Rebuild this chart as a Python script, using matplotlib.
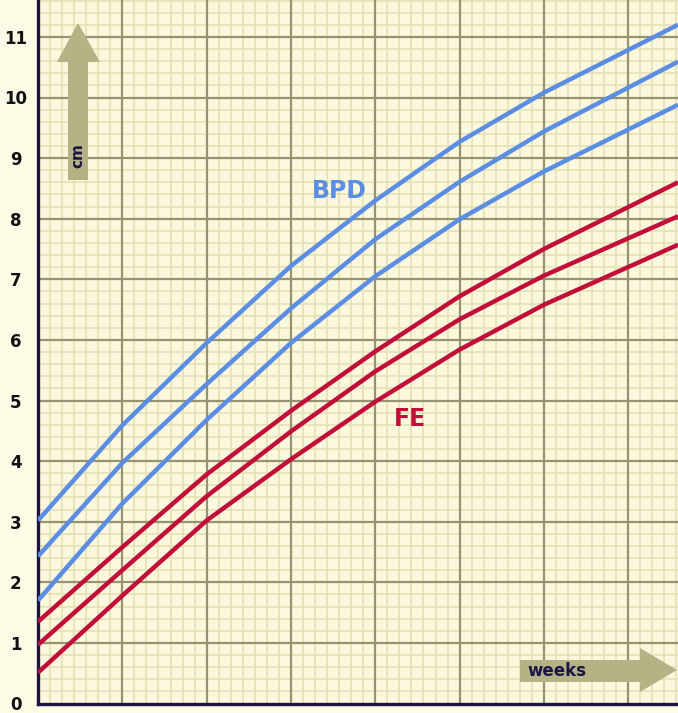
import matplotlib
matplotlib.use("Agg")
import matplotlib.pyplot as plt
from matplotlib.patches import Polygon
import numpy as np

# weeks (one major grid square = 1 week, 7 day subdivisions)
weeks = [0, 1, 2, 3, 4, 5, 6, 7.59]

# BPD percentile curves (cm)
bpd_high = [3.02, 4.59, 5.95, 7.22, 8.30, 9.27, 10.08, 11.20]
bpd_mid = [2.43, 3.97, 5.27, 6.52, 7.66, 8.61, 9.44, 10.59]
bpd_low = [1.70, 3.30, 4.68, 5.95, 7.05, 7.99, 8.78, 9.88]

# FE (femur) percentile curves (cm)
fe_high = [1.35, 2.58, 3.78, 4.83, 5.81, 6.72, 7.50, 8.60]
fe_mid = [0.97, 2.20, 3.42, 4.49, 5.48, 6.34, 7.06, 8.04]
fe_low = [0.51, 1.78, 3.02, 4.03, 4.98, 5.84, 6.58, 7.57]

y_ticks = list(range(0, 12))

W, H = 678, 713
BLUE = "#5b8de3"
RED = "#c20f3a"
NAVY = "#1c1446"
KHAKI = "#b5b285"

XMAX = 7.59
YMAX = 703.5 / 60.6

fig = plt.figure(figsize=(W / 100, H / 100), dpi=100)
fig.patch.set_facecolor("#fdfbe6")

# axes placed in pixels: left spine at x=38, bottom spine at y=703.5
ax = fig.add_axes([38 / W, (H - 703.5) / H, (W - 38) / W, 703.5 / H])
ax.set_facecolor("#fbf8de")
ax.set_xlim(0, XMAX)
ax.set_ylim(0, YMAX)

# graph paper: days / 0.2 cm minor lines, weeks / 1 cm major lines
minor_x = np.arange(0, XMAX, 1 / 7)
minor_y = np.arange(0, YMAX, 0.2)
ax.vlines(minor_x, 0, YMAX, color="#e6e2b8", linewidth=1.3, zorder=0.5)
ax.hlines(minor_y, 0, XMAX, color="#e6e2b8", linewidth=1.3, zorder=0.5)
ax.vlines(np.arange(1, 8), 0, YMAX, color="#959370", linewidth=1.6, zorder=1)
ax.hlines(y_ticks[1:], 0, XMAX, color="#959370", linewidth=1.6, zorder=1)

ax.set_xticks([])
ax.set_yticks(y_ticks)
ax.set_yticklabels([str(v) for v in y_ticks], fontsize=12, fontweight="bold", color="#111111")
for lab in ax.get_yticklabels():
    lab.set_horizontalalignment("center")
ax.tick_params(axis="both", which="both", length=0)
ax.tick_params(axis="y", pad=16)

for side in ["top", "right"]:
    ax.spines[side].set_visible(False)
for side in ["left", "bottom"]:
    ax.spines[side].set_color(NAVY)
    ax.spines[side].set_linewidth(2.4)

for ys in [bpd_high, bpd_mid, bpd_low]:
    ax.plot(weeks, ys, color=BLUE, linewidth=3.2, solid_capstyle="butt",
            solid_joinstyle="round", zorder=3)
for ys in [fe_high, fe_mid, fe_low]:
    ax.plot(weeks, ys, color=RED, linewidth=3.2, solid_capstyle="butt",
            solid_joinstyle="round", zorder=3)

ax.text(3.58, 8.45, "BPD", color=BLUE, fontsize=17, fontweight="bold",
        ha="center", va="center", zorder=4)
ax.text(4.41, 4.70, "FE", color=RED, fontsize=17, fontweight="bold",
        ha="center", va="center", zorder=4)


def px(points):
    # pixel coords (y down) -> figure fraction
    return [(x / W, 1 - y / H) for x, y in points]


up_arrow = [(68, 180), (68, 62), (57, 62), (78, 23), (100, 62), (88, 62), (88, 180)]
right_arrow = [(520, 660), (640, 660), (640, 648), (677, 670), (640, 692), (640, 682), (520, 682)]
for pts in [up_arrow, right_arrow]:
    fig.patches.append(Polygon(px(pts), closed=True, transform=fig.transFigure,
                               facecolor=KHAKI, edgecolor="none", zorder=5))

fig.text(78 / W, 1 - 156 / H, "cm", rotation=90, color=NAVY, fontsize=11,
         fontweight="bold", ha="center", va="center", zorder=6)
fig.text(557 / W, 1 - 671 / H, "weeks", color=NAVY, fontsize=12,
         fontweight="bold", ha="center", va="center", zorder=6)

fig.savefig("out.png", dpi=100, facecolor=fig.get_facecolor())
